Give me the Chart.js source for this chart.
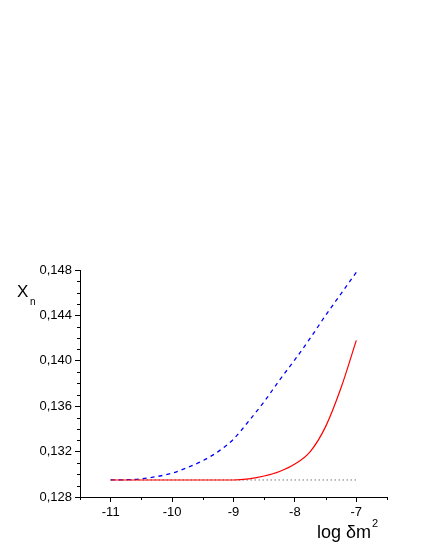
<!DOCTYPE html>
<html>
<head>
<meta charset="utf-8">
<script src="https://cdn.jsdelivr.net/npm/chart.js@4/dist/chart.umd.min.js"></script>
<style>
  html, body { margin: 0; padding: 0; background: #fff; }
  #wrap { width: 425px; height: 550px; }
</style>
</head>
<body>
<div id="wrap"><canvas id="xn"></canvas></div>
<script>
// log(delta m^2) sample points
var logDm2 = [-11, -10.75, -10.5, -10.25, -10, -9.75, -9.5, -9.25, -9, -8.75, -8.5, -8.25, -8, -7.75, -7.5, -7.25, -7];
// dashed blue curve
var blueXn = [0.1295, 0.12952, 0.1296, 0.1298, 0.1301, 0.1306, 0.1312, 0.1320, 0.1331, 0.1347, 0.1364, 0.1383, 0.1401, 0.1420, 0.1440, 0.1459, 0.1478];
// solid red curve
var redXn = [0.1295, 0.1295, 0.1295, 0.1295, 0.1295, 0.1295, 0.1295, 0.1295, 0.1295, 0.1296, 0.12985, 0.13025, 0.1309, 0.1320, 0.1342, 0.1376, 0.1418];
// dotted reference level
var baseXn = [0.1295, 0.1295, 0.1295, 0.1295, 0.1295, 0.1295, 0.1295, 0.1295, 0.1295, 0.1295, 0.1295, 0.1295, 0.1295, 0.1295, 0.1295, 0.1295, 0.1295];

var xTicks = [-11, -10, -9, -8, -7];
var xMinorTicks = [-11.5, -10.5, -9.5, -8.5, -7.5, -6.5];
var yTicks = [0.128, 0.132, 0.136, 0.140, 0.144, 0.148];
var yMinorTicks = [0.129, 0.130, 0.131, 0.133, 0.134, 0.135, 0.137, 0.138, 0.139, 0.141, 0.142, 0.143, 0.145, 0.146, 0.147];

function pts(ys) {
	var r = [];
	for (var i = 0; i < logDm2.length; i++) {
		r.push({ x: logDm2[i], y: ys[i] });
	}
	return r;
}

// minor ticks and axis titles
var extras = {
	id: 'extras',
	afterDraw: function(chart) {
		var ctx = chart.ctx;
		var xs = chart.scales.x, ys = chart.scales.y;
		var area = chart.chartArea;
		ctx.save();
		ctx.strokeStyle = '#000';
		ctx.lineWidth = 1;
		ctx.beginPath();
		xMinorTicks.forEach(function(v) {
			var px = Math.round(xs.getPixelForValue(v)) + 0.5;
			ctx.moveTo(px, area.bottom);
			ctx.lineTo(px, area.bottom + 3);
		});
		yMinorTicks.forEach(function(v) {
			var py = Math.round(ys.getPixelForValue(v)) + 0.5;
			ctx.moveTo(area.left, py);
			ctx.lineTo(area.left - 3, py);
		});
		ctx.stroke();

		ctx.fillStyle = '#000';
		ctx.textBaseline = 'alphabetic';
		ctx.textAlign = 'left';
		ctx.font = '17px "Liberation Sans", Arial, sans-serif';
		ctx.fillText('X', 17, 297);
		ctx.font = '10px "Liberation Sans", Arial, sans-serif';
		ctx.fillText('n', 30, 305);

		ctx.font = '18px "Liberation Sans", Arial, sans-serif';
		var t = 'log \u03b4m';
		ctx.fillText(t, 317, 538);
		var w = ctx.measureText(t).width;
		ctx.font = '11px "Liberation Sans", Arial, sans-serif';
		ctx.fillText('2', 317 + w + 1, 527);
		ctx.restore();
	}
};

var ctx = document.getElementById('xn').getContext('2d');
var chart = new Chart(ctx, {
	type: 'line',
	data: {
		datasets: [
			{
				label: 'red',
				data: pts(redXn),
				borderColor: '#ff0000',
				borderWidth: 1.2,
				pointRadius: 0,
				cubicInterpolationMode: 'monotone',
				fill: false
			},
			{
				label: 'blue',
				data: pts(blueXn),
				borderColor: '#0000ff',
				borderWidth: 1.3,
				borderDash: [4, 4],
				pointRadius: 0,
				cubicInterpolationMode: 'monotone',
				fill: false
			},
			{
				label: 'base',
				data: pts(baseXn),
				borderColor: '#333333',
				borderWidth: 1,
				borderDash: [1, 3],
				pointRadius: 0,
				fill: false
			}
		]
	},
	options: {
		responsive: true,
		maintainAspectRatio: false,
		animation: false,
		layout: { padding: { top: 270, right: 38, left: 0, bottom: 0 } },
		plugins: {
			legend: { display: false },
			tooltip: { enabled: false }
		},
		scales: {
			x: {
				type: 'linear',
				min: -11.5,
				max: -6.5,
				afterBuildTicks: function(scale) {
					scale.ticks = xTicks.map(function(v) { return { value: v }; });
				},
				afterFit: function(scale) { scale.height = 53; },
				border: { display: true, color: '#000', width: 1 },
				grid: { drawOnChartArea: false, drawTicks: true, tickLength: 5, tickColor: '#000' },
				ticks: {
					color: '#000',
					padding: 3,
					maxRotation: 0,
					font: { family: '"Liberation Sans", Arial, sans-serif', size: 13 },
					callback: function(v) { return String(v); }
				}
			},
			y: {
				type: 'linear',
				min: 0.128,
				max: 0.148,
				afterBuildTicks: function(scale) {
					scale.ticks = yTicks.map(function(v) { return { value: v }; });
				},
				afterFit: function(scale) { scale.width = 80; },
				border: { display: true, color: '#000', width: 1 },
				grid: { drawOnChartArea: false, drawTicks: true, tickLength: 5, tickColor: '#000' },
				ticks: {
					color: '#000',
					padding: 3,
					font: { family: '"Liberation Sans", Arial, sans-serif', size: 13 },
					callback: function(v) { return v.toFixed(3).replace('.', ','); }
				}
			}
		}
	},
	plugins: [extras]
});
</script>
</body>
</html>
